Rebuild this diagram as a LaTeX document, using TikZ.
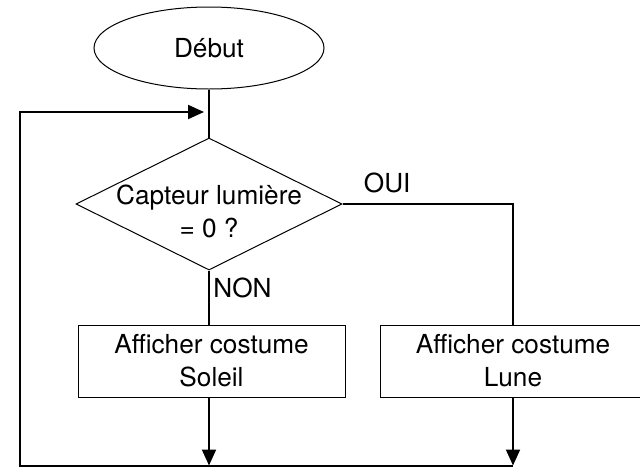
\documentclass[tikz,border=0pt]{standalone}
\usepackage{fontspec}
\setmainfont{TeX Gyre Heros}
\usetikzlibrary{shapes.geometric,arrows.meta,positioning}

\begin{document}
\begin{tikzpicture}[x=0.5pt,y=-0.5pt,font=\fontsize{13.1}{16.5}\selectfont,
  debfin/.style={draw,line width=0.5pt,ellipse,minimum width=115pt,minimum height=41pt,inner sep=0pt},
  test/.style={draw,line width=0.5pt,diamond,minimum width=133pt,minimum height=66pt,inner sep=0pt},
  bloc/.style={draw,line width=0.5pt,minimum width=133.5pt,minimum height=36pt,align=center,inner sep=0pt},
  lien/.style={line width=1pt},
  fleche/.style={lien,-{Triangle[length=8pt,width=7pt]}}]
\clip (0,0) rectangle (640,467);
\node[debfin] (debut) at (209,48) {Début};
\node[test,label={[align=center,yshift=-3.5pt]center:Capteur lumière\\= 0 ?}] (capteur) at (209,204) {};
\node[bloc] (soleil) at (211.5,361) {Afficher costume\\Soleil};
\node[bloc,minimum width=132.5pt] (lune) at (513,361) {Afficher costume\\Lune};
\node[inner sep=0pt] (oui) [above right=5.5pt and 10.5pt of capteur.east] {OUI};
\node[inner sep=0pt] (non) [below right=3.5pt and 2pt of capteur.south] {NON};
\coordinate (coinH) at (20,112);
\coordinate (coinB) at (20,465.5);
\coordinate (entree) at (209,112);
\coordinate (finG) at (209,465.5);
\coordinate (finD) at (513,465.5);
% liens
\draw[lien] (debut) -- (capteur);
\draw[lien] (capteur) -- (soleil.north -| capteur);
\draw[lien] (capteur) -| (lune);
\draw[fleche] (soleil.south -| capteur) -- (finG);
\draw[fleche] (lune) -- (finD);
% retour
\draw[fleche,shorten >=2.5pt] (finD) -- (coinB) -- (coinH) -- (entree);
\end{tikzpicture}
\end{document}
